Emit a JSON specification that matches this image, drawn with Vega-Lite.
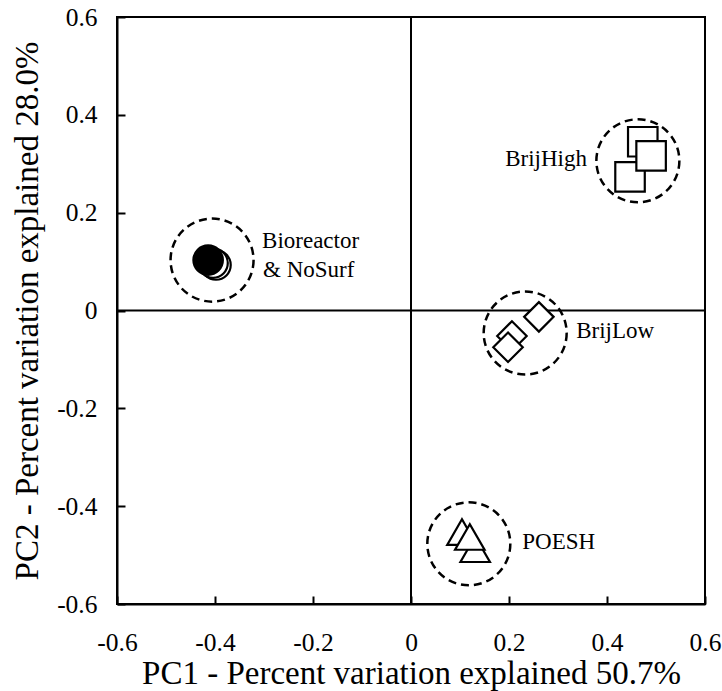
{
  "$schema": "https://vega.github.io/schema/vega-lite/v6.json",
  "width": 588,
  "height": 587,
  "autosize": {"type": "none"},
  "padding": {"left": 117, "top": 17, "right": 17, "bottom": 87},
  "background": "white",
  "config": {
    "font": "Times New Roman, Liberation Serif, serif",
    "view": {"stroke": "black", "strokeWidth": 2},
    "axis": {
      "grid": false,
      "domainColor": "black",
      "domainWidth": 2,
      "tickColor": "black",
      "tickWidth": 2,
      "tickSize": -8,
      "labelFont": "Times New Roman, Liberation Serif, serif",
      "labelFontSize": 25.5,
      "labelColor": "black",
      "titleFont": "Times New Roman, Liberation Serif, serif",
      "titleFontSize": 33,
      "titleFontWeight": "normal",
      "titleColor": "black"
    }
  },
  "datasets": {
    "clusters": [
      {"group": "Bioreactor & NoSurf", "x": -0.406, "y": 0.103},
      {"group": "BrijHigh", "x": 0.463, "y": 0.306},
      {"group": "BrijLow", "x": 0.233, "y": -0.046},
      {"group": "POESH", "x": 0.118, "y": -0.477}
    ],
    "points": [
      {"group": "NoSurf", "kind": "circle", "fill": "open", "x": -0.398, "y": 0.093},
      {"group": "NoSurf", "kind": "circle", "fill": "open", "x": -0.404, "y": 0.097},
      {"group": "Bioreactor", "kind": "circle", "fill": "solid", "x": -0.414, "y": 0.103},
      {"group": "BrijHigh", "kind": "square", "fill": "open", "x": 0.473, "y": 0.345},
      {"group": "BrijHigh", "kind": "square", "fill": "open", "x": 0.447, "y": 0.273},
      {"group": "BrijHigh", "kind": "square", "fill": "open", "x": 0.49, "y": 0.316},
      {"group": "BrijLow", "kind": "diamond", "fill": "open", "x": 0.261, "y": -0.013},
      {"group": "BrijLow", "kind": "diamond", "fill": "open", "x": 0.206, "y": -0.052},
      {"group": "BrijLow", "kind": "diamond", "fill": "open", "x": 0.198, "y": -0.075},
      {"group": "POESH", "kind": "triangle-up", "fill": "open", "x": 0.104, "y": -0.453},
      {"group": "POESH", "kind": "triangle-up", "fill": "open", "x": 0.131, "y": -0.488},
      {"group": "POESH", "kind": "triangle-up", "fill": "open", "x": 0.12, "y": -0.463}
    ],
    "labelsLeft": [
      {"label": "Bioreactor", "x": -0.304, "y": 0.142},
      {"label": "& NoSurf", "x": -0.302, "y": 0.082},
      {"label": "BrijLow", "x": 0.337, "y": -0.042},
      {"label": "POESH", "x": 0.227, "y": -0.474}
    ],
    "labelsRight": [
      {"label": "BrijHigh", "x": 0.359, "y": 0.31}
    ],
    "zero": [{"v": 0}]
  },
  "layer": [
    {
      "data": {"name": "zero"},
      "mark": {"type": "rule", "color": "black", "strokeWidth": 2},
      "encoding": {
        "x": {"field": "v", "type": "quantitative", "scale": {"domain": [-0.6, 0.6], "nice": false, "zero": false},
          "axis": {"values": [-0.6, -0.4, -0.2, 0, 0.2, 0.4, 0.6], "title": "PC1 - Percent variation explained 50.7%",
            "labelExpr": "datum.value == 0 ? '0' : (datum.value < 0 ? '-' + format(-datum.value, '.1f') : format(datum.value, '.1f'))",
            "labelPadding": 34, "titlePadding": 2, "labelFlush": false}}
      }
    },
    {
      "data": {"name": "zero"},
      "mark": {"type": "rule", "color": "black", "strokeWidth": 2},
      "encoding": {
        "y": {"field": "v", "type": "quantitative", "scale": {"domain": [-0.6, 0.6], "nice": false, "zero": false},
          "axis": {"values": [-0.6, -0.4, -0.2, 0, 0.2, 0.4, 0.6], "title": "PC2 - Percent variation explained 28.0%",
            "labelExpr": "datum.value == 0 ? '0' : (datum.value < 0 ? '-' + format(-datum.value, '.1f') : format(datum.value, '.1f'))",
            "labelPadding": 28, "titlePadding": 12, "labelFlush": false}}
      }
    },
    {
      "data": {"name": "clusters"},
      "mark": {"type": "point", "shape": "circle", "size": 6889, "filled": false, "stroke": "black", "strokeWidth": 2.5, "strokeDash": [8, 5], "opacity": 1},
      "encoding": {
        "x": {"field": "x", "type": "quantitative"},
        "y": {"field": "y", "type": "quantitative"}
      }
    },
    {
      "data": {"name": "points"},
      "mark": {"type": "point", "size": 870, "stroke": "black", "strokeWidth": 2.2, "opacity": 1, "strokeOpacity": 1, "fillOpacity": 1},
      "encoding": {
        "x": {"field": "x", "type": "quantitative"},
        "y": {"field": "y", "type": "quantitative"},
        "shape": {"field": "kind", "type": "nominal", "scale": {"domain": ["circle", "square", "diamond", "triangle-up"], "range": ["circle", "square", "diamond", "triangle-up"]}, "legend": null},
        "fill": {"field": "fill", "type": "nominal", "scale": {"domain": ["open", "solid"], "range": ["white", "black"]}, "legend": null}
      }
    },
    {
      "data": {"name": "labelsLeft"},
      "mark": {"type": "text", "align": "left", "baseline": "middle", "font": "Times New Roman, Liberation Serif, serif", "fontSize": 23, "color": "black"},
      "encoding": {
        "x": {"field": "x", "type": "quantitative"},
        "y": {"field": "y", "type": "quantitative"},
        "text": {"field": "label"}
      }
    },
    {
      "data": {"name": "labelsRight"},
      "mark": {"type": "text", "align": "right", "baseline": "middle", "font": "Times New Roman, Liberation Serif, serif", "fontSize": 23, "color": "black"},
      "encoding": {
        "x": {"field": "x", "type": "quantitative"},
        "y": {"field": "y", "type": "quantitative"},
        "text": {"field": "label"}
      }
    }
  ]
}
